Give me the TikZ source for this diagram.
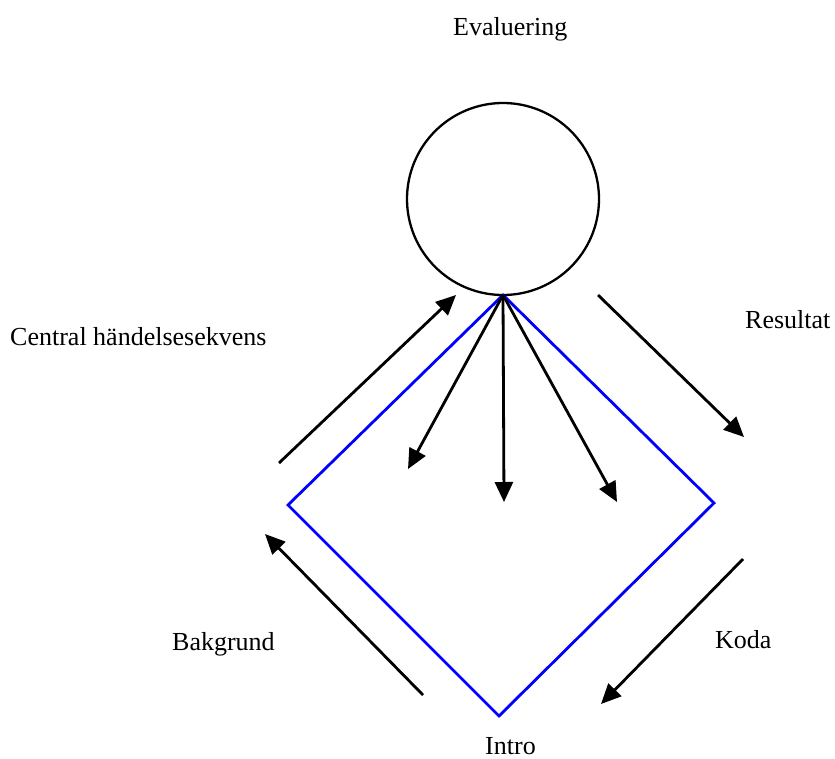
\documentclass[tikz,border=0pt]{standalone}
\usepackage{fontspec}
\setmainfont{Liberation Serif}
\usetikzlibrary{arrows.meta}
\begin{document}
\begin{tikzpicture}[x=1pt,y=-1pt,
  lbl/.style={anchor=base west,inner sep=0pt,font=\fontsize{26}{30}\selectfont},
  arr/.style={draw=black,line width=2.8pt,-{Triangle[length=20pt,width=18pt]}},
  blueline/.style={draw=blue,line width=2.8pt,line join=miter}]
\useasboundingbox (0,0) rectangle (835,758);
\node[circle,draw=black,line width=2.3pt,minimum size=192pt,inner sep=0pt] (ev) at (503,199) {};
\coordinate (top) at (503,295);
\coordinate (rv) at (714,503);
\coordinate (bv) at (499,716);
\coordinate (lv) at (288,505);
\draw[blueline] (top) -- (rv) -- (bv) -- (lv) -- cycle;
\coordinate (t1) at (408,469);
\coordinate (t2) at (504,502);
\coordinate (t3) at (617,502);
\draw[arr] (top) -- (t1);
\draw[arr] (top) -- (t2);
\draw[arr] (top) -- (t3);
\coordinate (cs) at (279,463); \coordinate (ce) at (456,295);
\coordinate (rs) at (598,295); \coordinate (re) at (744,437);
\coordinate (ks) at (743,559); \coordinate (ke) at (601,704);
\coordinate (bs) at (423,695); \coordinate (be) at (265,534);
\draw[arr] (cs) -- (ce);
\draw[arr] (rs) -- (re);
\draw[arr] (ks) -- (ke);
\draw[arr] (bs) -- (be);
\node[lbl] (lev) at (453,35) {Evaluering};
\node[lbl] (lcen) at (10,345) {Central händelsesekvens};
\node[lbl] (lres) at (745,328) {Resultat};
\node[lbl] (lbak) at (172,650) {Bakgrund};
\node[lbl] (lkod) at (715,648) {Koda};
\node[lbl] (lint) at (485,754) {Intro};
\end{tikzpicture}
\end{document}
